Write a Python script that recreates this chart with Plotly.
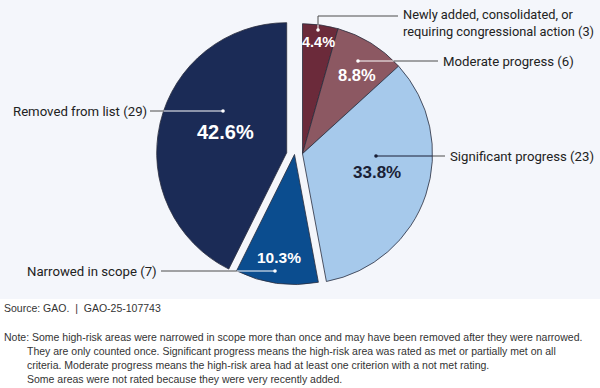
import plotly.graph_objects as go

# ---------------- data ----------------
labels = ["Newly added, consolidated, or<br>requiring congressional action",
          "Moderate progress", "Significant progress",
          "Narrowed in scope", "Removed from list"]
values = [3, 6, 23, 7, 29]
colors = ["#6B2A3A", "#8C5862", "#A6C9EB", "#0B4D8F", "#1B2B56"]
groups = [[0, 1, 2], [3], [4]]          # slices that move together
source_text = "Source: GAO.\u00a0 |\u00a0 GAO-25-107743"
note_lines = [
    "Note: Some high-risk areas were narrowed in scope more than once and may have been removed after they were narrowed.",
    "They are only counted once. Significant progress means the high-risk area was rated as met or partially met on all",
    "criteria. Moderate progress means the high-risk area had at least one criterion with a not met rating.",
    "Some areas were not rated because they were very recently added.",
]

# ---------------- layout constants (pixels) ----------------
W, H = 600, 388
CX, CY, R = 294.5, 154.5, 130
group_shift = [(8, -0.8), (0, 0), (-7.8, -1.8)]   # dx, dy (screen px)
BG = "#F4F6FB"
FONT = "Roboto, Liberation Sans, Arial, sans-serif"
BFONT = "Liberation Sans, Arial, sans-serif"
TXT = "#222222"
GREY = "#4d4d4d"

# label text anchor, leader path (outside -> inside), dot, inside line colour
label_layout = [
    dict(x=401, y=22.5, xanchor="left", size=12.8, path=[(398, 16), (318, 16), (318, 30)], inner="white"),
    dict(x=441, y=61, xanchor="left", size=13.2, path=[(438, 61), (358, 61)], inner="white"),
    dict(x=448, y=156, xanchor="left", size=13.2, path=[(445, 156), (376, 156)], inner="#1a1f36"),
    dict(x=159, y=271, xanchor="right", size=13.2, path=[(161, 271), (275, 271)], inner="white"),
    dict(x=149, y=111, xanchor="right", size=13.2, path=[(150, 111), (223, 111)], inner="white"),
]
pct_layout = [
    dict(x=318, y=42, size=14.5, color="white"),
    dict(x=357, y=75, size=16.5, color="white"),
    dict(x=377, y=172, size=17, color="#1a1f36"),
    dict(x=279, y=257, size=15.5, color="white"),
    dict(x=225, y=132, size=20, color="white"),
]


def px(x):
    return x / W


def py(y):
    return 1 - y / H


total = sum(values)
fig = go.Figure()

slice_group = {}
for gi, g in enumerate(groups):
    dx, dy = group_shift[gi]
    gcx, gcy = CX + dx, CY + dy
    for i in g:
        slice_group[i] = (gcx, gcy)
    mcol = [colors[i] if i in g else "rgba(0,0,0,0)" for i in range(len(values))]
    lw = [0.8 if i in g else 0 for i in range(len(values))]
    fig.add_trace(go.Pie(
        labels=[l.replace("<br>", " ") for l in labels], values=values,
        sort=False, direction="clockwise", rotation=0,
        marker=dict(colors=mcol, line=dict(color="#2a2d3e", width=lw)),
        textinfo="none", showlegend=False, hoverinfo="label+value",
        domain=dict(x=[px(gcx - R), px(gcx + R)], y=[py(gcy + R), py(gcy - R)]),
    ))


def circle_cross(p0, p1, c, r):
    dx, dy = p1[0] - p0[0], p1[1] - p0[1]
    fx, fy = p0[0] - c[0], p0[1] - c[1]
    a = dx * dx + dy * dy
    b = 2 * (fx * dx + fy * dy)
    cc = fx * fx + fy * fy - r * r
    disc = b * b - 4 * a * cc
    if disc < 0:
        return None
    t = (-b - disc ** 0.5) / (2 * a)
    if 0 <= t <= 1:
        return (p0[0] + t * dx, p0[1] + t * dy)
    return None


shapes = [dict(type="rect", xref="paper", yref="paper", x0=0, x1=1, y0=py(299), y1=1,
               fillcolor=BG, line=dict(width=0), layer="below")]


def seg(p0, p1, color):
    shapes.append(dict(type="line", xref="paper", yref="paper",
                       x0=px(p0[0]), y0=py(p0[1]), x1=px(p1[0]), y1=py(p1[1]),
                       line=dict(color=color, width=1)))


annotations = []
for i, lay in enumerate(label_layout):
    c = slice_group[i]
    path = lay["path"]
    inside = False
    for a, b in zip(path[:-1], path[1:]):
        if inside:
            seg(a, b, lay["inner"])
            continue
        cross = circle_cross(a, b, c, R)
        if cross is None:
            seg(a, b, GREY)
        else:
            seg(a, cross, GREY)
            seg(cross, b, lay["inner"])
            inside = True
    dxp, dyp = path[-1]
    shapes.append(dict(type="circle", xref="paper", yref="paper",
                       x0=px(dxp - 1.8), x1=px(dxp + 1.8), y0=py(dyp + 1.8), y1=py(dyp - 1.8),
                       fillcolor=lay["inner"], line=dict(width=0)))
    annotations.append(dict(xref="paper", yref="paper", x=px(lay["x"]), y=py(lay["y"]),
                            xanchor=lay["xanchor"], yanchor="middle", align="left",
                            text=f"{labels[i]} ({values[i]})", showarrow=False,
                            font=dict(family=FONT, size=lay["size"], color=TXT)))
    pl = pct_layout[i]
    annotations.append(dict(xref="paper", yref="paper", x=px(pl["x"]), y=py(pl["y"]),
                            xanchor="center", yanchor="middle",
                            text=f"<b>{values[i] / total * 100:.1f}%</b>", showarrow=False,
                            font=dict(family=BFONT, size=pl["size"], color=pl["color"])))

NOTE_FONT = dict(family=BFONT, size=10.5, color="#333333")
annotations.append(dict(xref="paper", yref="paper", x=px(2), y=py(308), xanchor="left",
                        yanchor="middle", text=source_text, showarrow=False, font=NOTE_FONT))
note_y = [337, 351, 365, 379]
for k, line in enumerate(note_lines):
    annotations.append(dict(xref="paper", yref="paper", x=px(2 if k == 0 else 25), y=py(note_y[k]),
                            xanchor="left", yanchor="middle", text=line, showarrow=False,
                            font=NOTE_FONT))

fig.update_layout(width=W, height=H, margin=dict(l=0, r=0, t=0, b=0),
                  paper_bgcolor="white", plot_bgcolor="white",
                  shapes=shapes, annotations=annotations)

fig.write_html("out.html", config={"displayModeBar": False},
               post_script="document.body.style.margin='0';document.body.style.padding='0';")
